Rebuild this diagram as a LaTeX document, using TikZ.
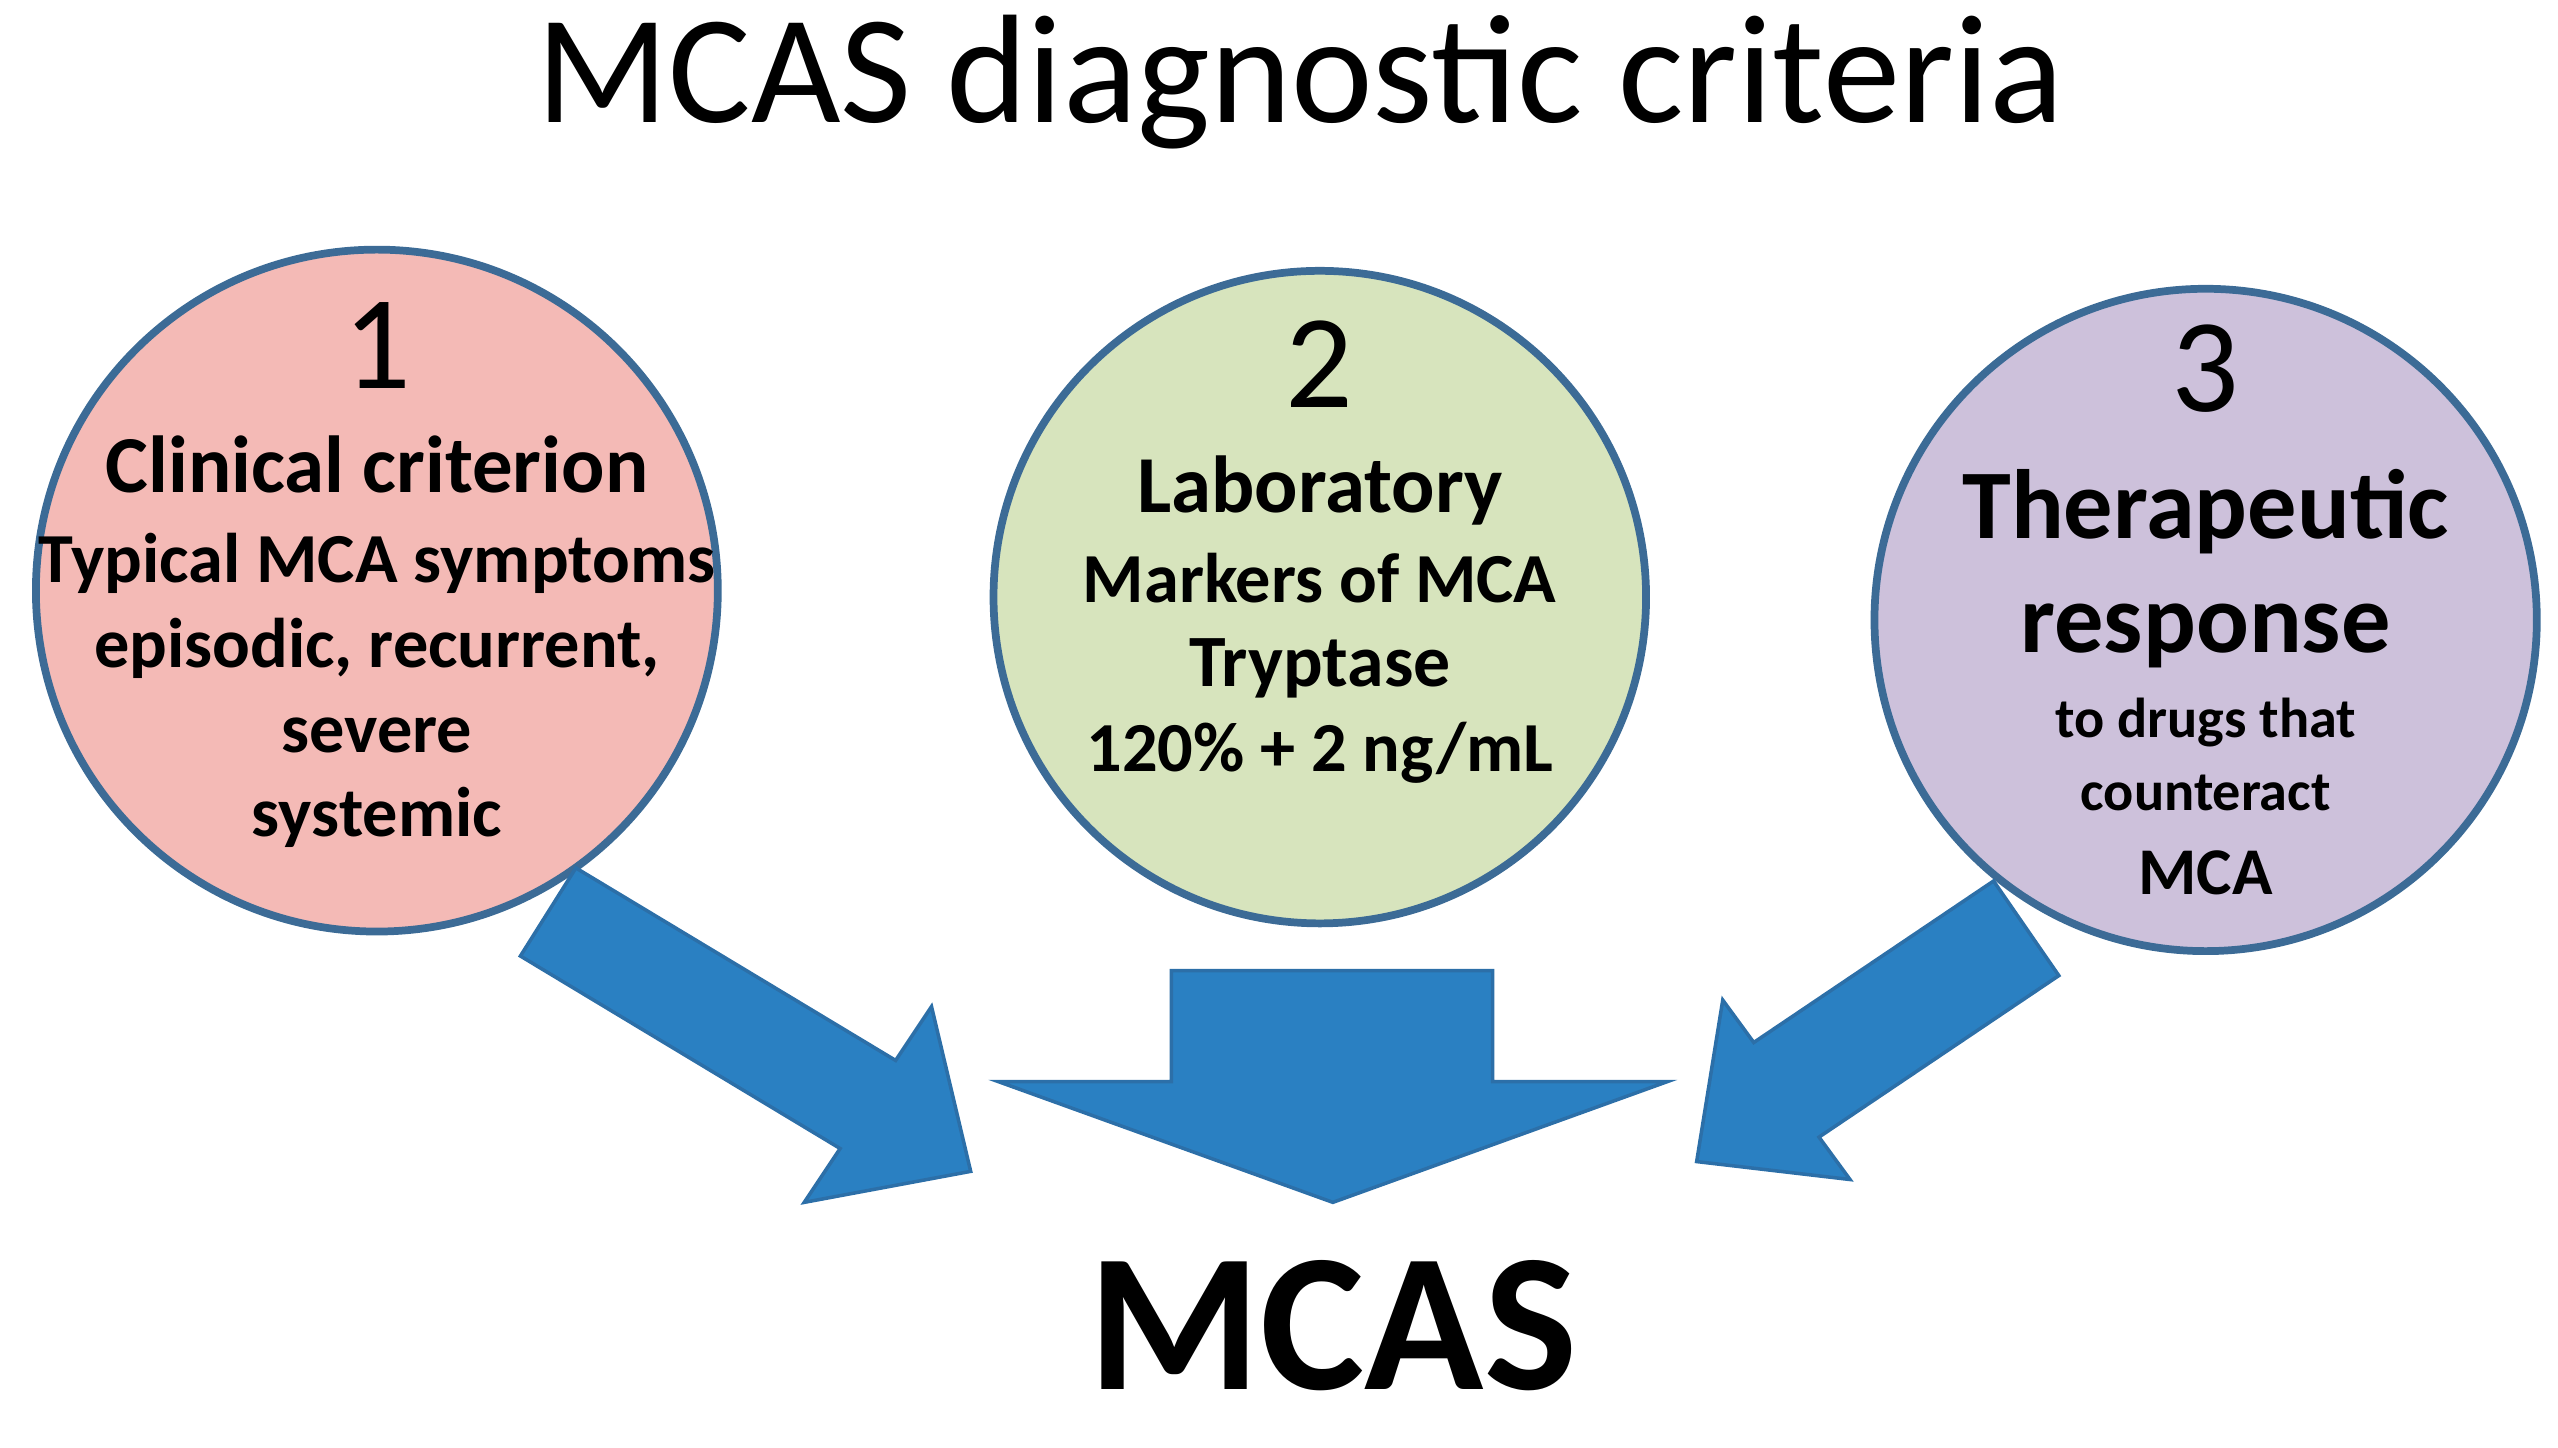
\documentclass[tikz,border=0pt]{standalone}
\usepackage{fontspec}
\setmainfont{Carlito}
\definecolor{ring}{HTML}{3C6B96}
\definecolor{pinkf}{HTML}{F4BAB6}
\definecolor{greenf}{HTML}{D7E4BD}
\definecolor{lavf}{HTML}{CDC1DB}
\definecolor{arrf}{HTML}{2A80C2}
\definecolor{arrd}{HTML}{2C6FA8}
\begin{document}
\begin{tikzpicture}[x=0.01631cm,y=-0.01631cm,
  circ/.style={draw=ring,line width=2.2pt},
  barrow/.style={fill=arrf,draw=arrd,line width=1pt},
  txt/.style={inner sep=0pt,anchor=base},
  num/.style={txt,font=\fontsize{38}{40}\selectfont},
  bl/.style={txt,font=\bfseries\fontsize{#1}{#1}\selectfont}]
\useasboundingbox (0,0) rectangle (1568,887);
\node[txt,font=\fontsize{44}{48}\selectfont] (title) at (797,75) {MCAS diagnostic criteria};
\node[circ,fill=pinkf,circle,minimum size=418*0.01631cm] (c1) at (231,362) {};
\node[circ,fill=greenf,circle,minimum size=400*0.01631cm] (c2) at (809,366) {};
\node[circ,fill=lavf,circle,minimum size=406*0.01631cm] (c3) at (1352,380) {};
% circle 1
\node[num] (n1) at (231,238) {1};
\node[bl=23] (a1) at (231,302) {Clinical criterion};
\node[bl=20] (a2) at (231,357) {Typical MCA symptoms};
\node[bl=20] (a3) at (231,409) {episodic, recurrent,};
\node[bl=20] (a4) at (231,461) {severe};
\node[bl=20] (a5) at (231,513) {systemic};
% circle 2
\node[num] (n2) at (809,250) {2};
\node[bl=23] (b1) at (809,314) {Laboratory};
\node[bl=20] (b2) at (809,369) {Markers of MCA};
\node[bl=21] (b3) at (809,421) {Tryptase};
\node[bl=20] (b4) at (809,473) {120\% + 2 ng/mL};
% circle 3
\node[num] (n3) at (1352,252) {3};
\node[bl=28] (d1) at (1352,330) {Therapeutic};
\node[bl=28] (d2) at (1352,400) {response};
\node[bl=16] (d3) at (1352,452) {to drugs that};
\node[bl=16] (d4) at (1352,497) {counteract};
\node[bl=19] (d5) at (1352,548) {MCA};
% arrows
\draw[barrow] (319,586) -- (353,532) -- (549,650) -- (571,617) -- (595,718) -- (493,737) -- (515,704) -- cycle;
\draw[barrow] (718,595) -- (915,595) -- (915,663) -- (1022,663) -- (817,737) -- (612,663) -- (718,663) -- cycle;
\draw[barrow] (1222,540) -- (1262,598) -- (1115,697) -- (1134,723) -- (1040,712) -- (1056,613) -- (1075,639) -- cycle;
\node[txt,font=\bfseries\fontsize{56}{60}\selectfont] (mcas) at (817,852) {MCAS};
\end{tikzpicture}
\end{document}
